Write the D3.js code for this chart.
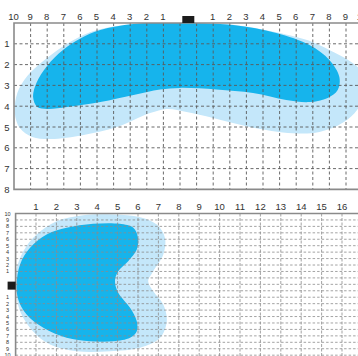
<!DOCTYPE html>
<html><head><meta charset="utf-8">
<script src="https://cdn.jsdelivr.net/npm/d3@7"></script>
<style>html,body{margin:0;padding:0;background:#fff;}svg{display:block;font-family:"Liberation Sans",Arial,sans-serif;}</style>
</head><body>
<svg id="chart" width="358" height="356"></svg>
<script>
// ---------- data ----------
// Top panel (horizontal view): column index 0..21, row (depth) 0..8
const topColLabels = ["10","9","8","7","6","5","4","3","2","1","","","1","2","3","4","5","6","7","8","9","10"];
const topRowLabels = [1,2,3,4,5,6,7,8];
const topSourceCol = 10.5;
// Outline of inner (dark) zone, [column, row]
const topInner = [[10.0,0.0],[13.2,0.1],[15.8,0.48],[17.8,1.06],[19.0,1.78],[19.6,2.6],[19.5,3.22],[18.9,3.6],[17.8,3.8],[16.4,3.7],[14.4,3.37],[12.2,3.2],[10.0,3.12],[8.8,3.2],[7.2,3.46],[5.2,3.8],[3.2,4.04],[2.0,4.13],[1.4,4.04],[1.15,3.56],[1.35,2.88],[2.0,2.05],[2.95,1.3],[4.0,0.75],[5.2,0.34],[7.2,0.05]];
// Outline of outer (light) zone
const topOuter = [[10.0,0.0],[13.2,0.08],[15.8,0.45],[18.0,0.92],[19.3,1.42],[20.4,1.92],[21.0,2.4],[21.2,3.2],[20.7,4.15],[19.8,4.8],[18.4,5.24],[16.8,5.3],[14.2,5.0],[12.0,4.57],[10.4,4.28],[9.2,4.13],[8.2,4.33],[6.2,5.0],[4.2,5.38],[2.2,5.58],[1.1,5.48],[0.35,5.05],[0.05,4.35],[0.2,3.37],[0.8,2.55],[1.8,1.8],[3.4,0.9],[5.0,0.34],[7.2,0.05]];

// Bottom panel (vertical view): column 0..16, row index 0..22
const botColLabels = [1,2,3,4,5,6,7,8,9,10,11,12,13,14,15,16];
const botRowLabels = ["10","9","8","7","6","5","4","3","2","1","","","","1","2","3","4","5","6","7","8","9","10"];
const botSourceRow = 11.2;
const botInner = [[0.05,11.0],[0.22,7.9],[0.71,5.33],[1.52,3.26],[2.5,2.22],[3.8,1.6],[5.1,1.6],[5.77,2.22],[6.0,3.77],[5.94,5.6],[5.52,7.4],[5.03,8.96],[4.87,10.5],[5.03,12.3],[5.61,14.64],[5.94,16.72],[5.94,18.28],[5.61,19.3],[4.79,19.83],[3.65,19.83],[2.5,19.3],[1.36,17.75],[0.54,15.68],[0.13,13.35]];
const botOuter = [[0.02,9.0],[0.38,5.85],[1.03,3.26],[2.01,1.2],[3.32,0.26],[4.79,0.16],[6.1,0.57],[6.92,1.71],[7.32,3.77],[7.24,6.37],[6.75,8.96],[6.5,10.51],[6.75,12.07],[7.24,14.13],[7.41,16.72],[7.08,19.3],[6.1,20.85],[4.63,21.38],[3.0,21.38],[1.69,20.34],[0.85,18.28],[0.22,15.17],[0.02,12.07]];

// ---------- drawing ----------
const W = 358, H = 356;
const DARK = "#16b4ec", LIGHT = "#c4e7fa", GRID = "#5a5a5a", AXIS = "#8a8a8a", TXT = "#333";
const svg = d3.select("#chart");
const defs = svg.append("defs");

function panel(cfg){
  const {x, y, colLabels, rowLabels, inner, outer, id, xMax, yMax} = cfg;
  defs.append("clipPath").attr("id", id).append("rect")
    .attr("x", x(0)).attr("y", y(0)).attr("width", W - x(0)).attr("height", y(yMax) - y(0));
  const g = svg.append("g");
  const shapes = g.append("g").attr("clip-path", `url(#${id})`);
  const line = d3.line().x(d => x(d[0])).y(d => y(d[1])).curve(d3.curveCatmullRomClosed.alpha(0.5));
  shapes.append("path").attr("d", line(outer)).attr("fill", LIGHT);
  shapes.append("path").attr("d", line(inner)).attr("fill", DARK);
  return g;
}

// top panel scales
const xT = d3.scaleLinear().domain([0, 21]).range([14, 14 + 21*16.6]);
const yT = d3.scaleLinear().domain([0, 8]).range([23, 189.4]);
const gT = panel({x:xT, y:yT, inner:topInner, outer:topOuter, id:"clipT", yMax:8});
// grid
gT.append("g").selectAll("line").data(d3.range(1, 22)).join("line")
  .attr("x1", d => xT(d)).attr("x2", d => xT(d)).attr("y1", yT(0)).attr("y2", yT(8))
  .attr("stroke", GRID).attr("stroke-width", 0.9).attr("stroke-dasharray", "3,2.5");
gT.append("g").selectAll("line").data(d3.range(1, 8)).join("line")
  .attr("x1", xT(0)).attr("x2", W).attr("y1", d => yT(d)).attr("y2", d => yT(d))
  .attr("stroke", GRID).attr("stroke-width", 0.9).attr("stroke-dasharray", "3,2.5");
// borders
gT.append("path").attr("d", `M${W},${yT(0)}H${xT(0)}V${yT(8)}H${W}`)
  .attr("fill", "none").attr("stroke", AXIS).attr("stroke-width", 1.6);
// labels
gT.append("g").selectAll("text").data(topColLabels).join("text")
  .attr("x", (d, i) => xT(i) - 0.5).attr("y", 19.5).attr("text-anchor", "middle")
  .attr("font-size", 9.5).attr("fill", TXT).text(d => d);
gT.append("g").selectAll("text").data(topRowLabels).join("text")
  .attr("x", 7).attr("y", d => yT(d) + 3.5).attr("text-anchor", "middle")
  .attr("font-size", 9.5).attr("fill", TXT).text(d => d);
gT.append("rect").attr("x", xT(topSourceCol) - 6).attr("y", yT(0) - 7).attr("width", 12).attr("height", 7).attr("fill", "#1c1c1c");

// bottom panel scales
const xB = d3.scaleLinear().domain([0, 16]).range([15.6, 15.6 + 16*20.4]);
const yB = d3.scaleLinear().domain([0, 22]).range([213.5, 213.5 + 22*6.44]);
const gB = panel({x:xB, y:yB, inner:botInner, outer:botOuter, id:"clipB", yMax:22.2});
gB.append("g").selectAll("line").data(d3.range(1, 17)).join("line")
  .attr("x1", d => xB(d)).attr("x2", d => xB(d)).attr("y1", yB(0)).attr("y2", H)
  .attr("stroke", "#8c8c8c").attr("stroke-width", 0.8).attr("stroke-dasharray", "3,1.5");
gB.append("g").selectAll("line").data(d3.range(1, 23)).join("line")
  .attr("x1", xB(0)).attr("x2", W).attr("y1", d => yB(d)).attr("y2", d => yB(d))
  .attr("stroke", "#8c8c8c").attr("stroke-width", 0.8).attr("stroke-dasharray", "2.5,2");
gB.append("path").attr("d", `M${W},${yB(0)}H${xB(0)}V${H}`)
  .attr("fill", "none").attr("stroke", AXIS).attr("stroke-width", 1.6);
gB.append("g").selectAll("text").data(botColLabels).join("text")
  .attr("x", d => xB(d)).attr("y", 209.5).attr("text-anchor", "middle")
  .attr("font-size", 9.5).attr("fill", TXT).text(d => d);
gB.append("g").selectAll("text").data(botRowLabels).join("text")
  .attr("x", 7.5).attr("y", (d, i) => yB(i) + 2).attr("text-anchor", "middle")
  .attr("font-size", 5.5).attr("fill", TXT).text(d => d);
gB.append("rect").attr("x", xB(0) - 8).attr("y", yB(botSourceRow) - 4).attr("width", 8).attr("height", 8).attr("fill", "#1c1c1c");
</script>
</body></html>
